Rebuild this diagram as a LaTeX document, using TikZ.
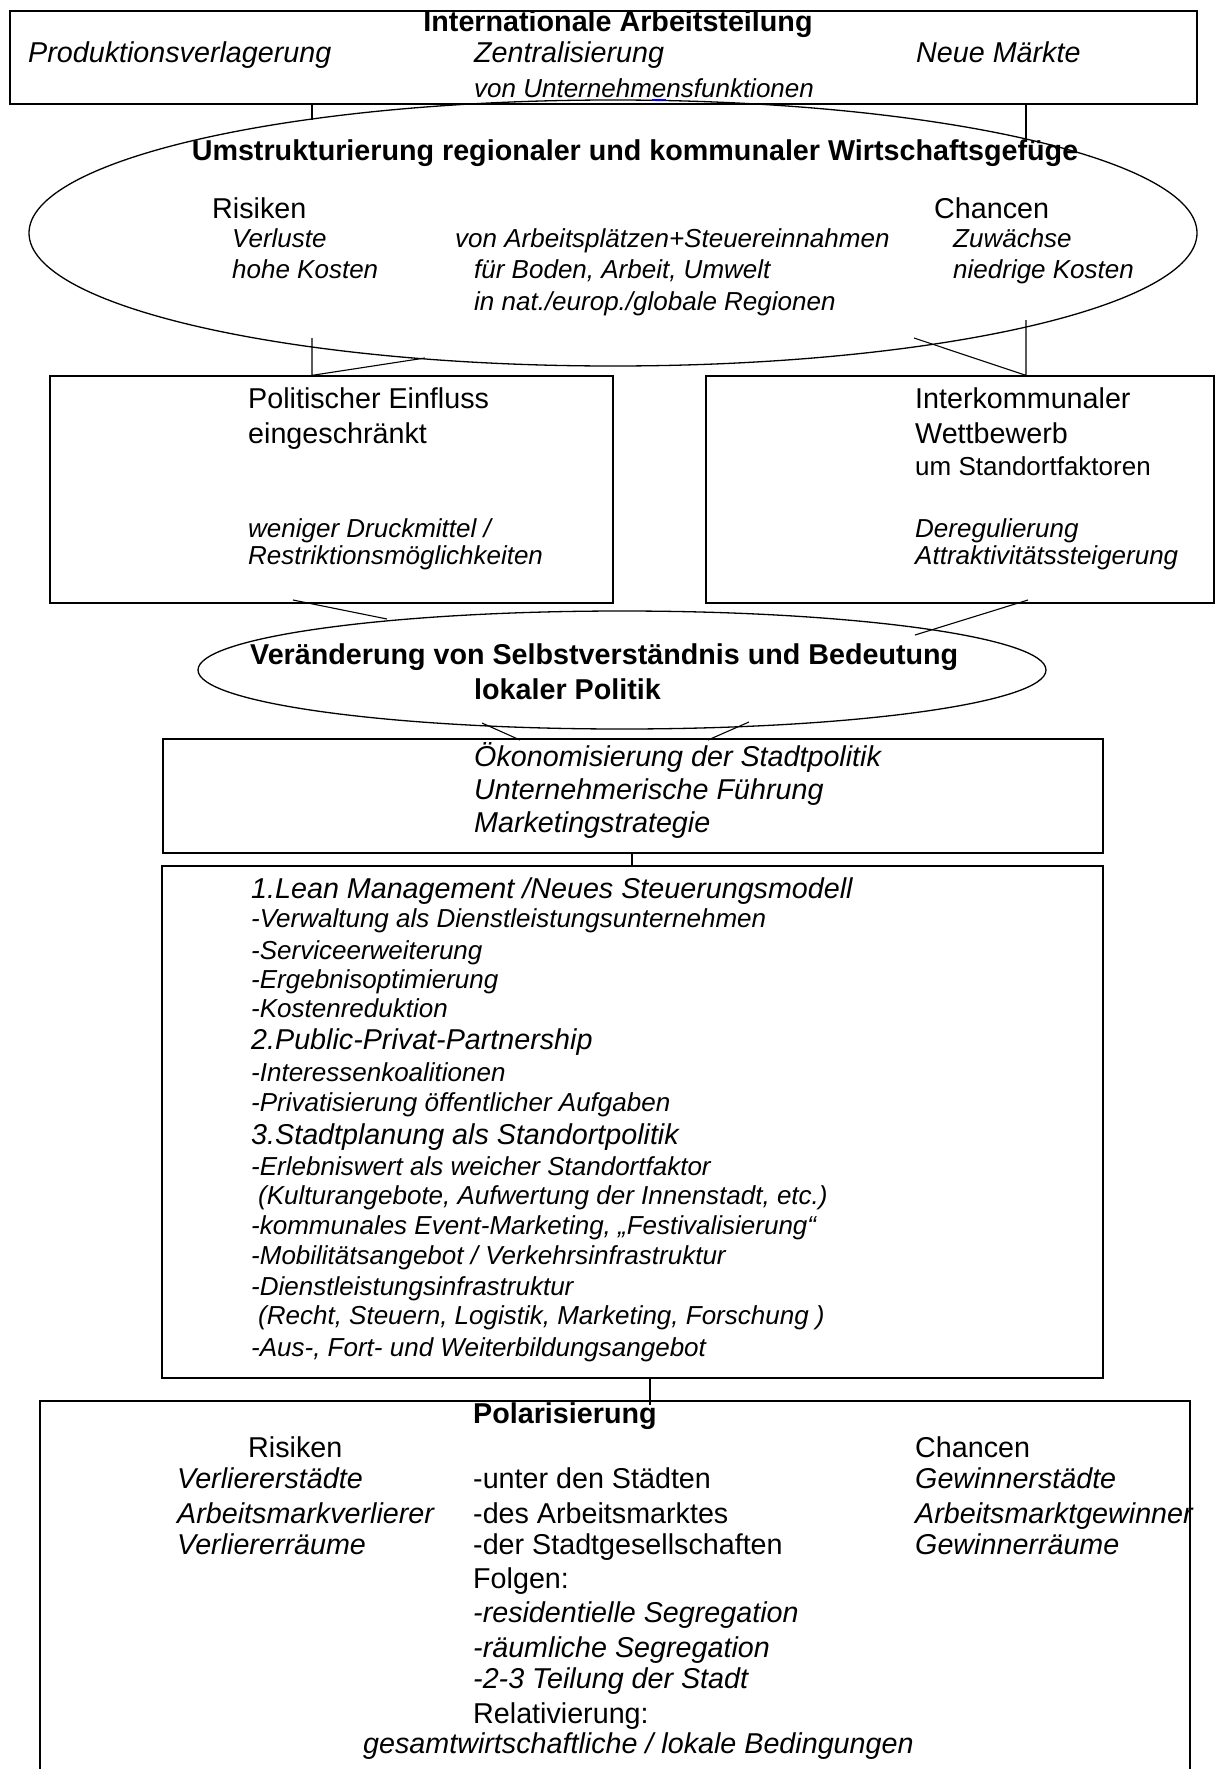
\documentclass[tikz,border=0pt]{standalone}
\usepackage{fontspec}
\setmainfont{Liberation Sans}
\usetikzlibrary{shapes.geometric}
\newcommand{\normaltext}{\fontsize{28.7}{33}\selectfont}
\newcommand{\smalltext}{\fontsize{26}{30}\selectfont}
\newcommand{\markblue}[1]{\setbox0=\hbox{#1}\rlap{\color{blue}\rule[-4pt]{\wd0}{1.6pt}}#1}

\begin{document}
\begin{tikzpicture}[x=1pt, y=-1pt,
    box/.style={draw, line width=1.3pt, inner sep=0pt},
    oval/.style={draw, ellipse, line width=1.3pt, inner sep=0pt},
    head/.style={anchor=base, inner sep=0pt, font=\normaltext\bfseries},
    headl/.style={anchor=base west, inner sep=0pt, font=\normaltext\bfseries},
    txt/.style={anchor=base west, inner sep=0pt, font=\normaltext},
    itxt/.style={anchor=base west, inner sep=0pt, font=\normaltext\itshape},
    stxt/.style={anchor=base west, inner sep=0pt, font=\smalltext},
    sitxt/.style={anchor=base west, inner sep=0pt, font=\smalltext\itshape},
    link/.style={line width=1.1pt}]
    \useasboundingbox (0,0) rectangle (1216,1769);

    % Shapes
    \node[box, minimum width=1187pt, minimum height=93pt] (arbeit) at (603.5,57.5) {};
    \node[oval, minimum width=1168pt, minimum height=266pt] (umbau) at (613,233) {};
    \node[box, minimum width=563pt, minimum height=227pt] (einfluss) at (331.5,489.5) {};
    \node[box, minimum width=508pt, minimum height=227pt] (wettbewerb) at (960,489.5) {};
    \node[oval, minimum width=848pt, minimum height=118pt] (politik) at (622,670) {};
    \node[box, minimum width=940pt, minimum height=114pt] (oekonomie) at (633,796) {};
    \node[box, minimum width=941pt, minimum height=512pt] (strategie) at (632.5,1122) {};
    \node[box, minimum width=1150pt, minimum height=399pt] (polar) at (615,1600.5) {};

    % Connectors
    \coordinate (a1) at (312,120);
    \coordinate (a2) at (1026,140);
    \draw[link] (arbeit.south -| a1) -- (a1);
    \draw[link] (arbeit.south -| a2) -- (a2);
    \coordinate (b1) at (312,338);
    \coordinate (b2) at (425,358);
    \coordinate (b3) at (1026,320);
    \coordinate (b4) at (914,338);
    \draw[link] (b1) -- (einfluss.north -| b1) -- (b2);
    \draw[link] (b3) -- (wettbewerb.north -| b3) -- (b4);
    \coordinate (c1) at (293,600);
    \coordinate (c2) at (387,619);
    \coordinate (c3) at (1028,600);
    \coordinate (c4) at (915,635);
    \draw[link] (c1) -- (c2);
    \draw[link] (c3) -- (c4);
    \coordinate (d1) at (482,723);
    \coordinate (d2) at (520,740);
    \coordinate (d3) at (749,722);
    \coordinate (d4) at (708,740);
    \draw[link] (d1) -- (d2);
    \draw[link] (d3) -- (d4);
    \coordinate (e1) at (632,853);
    \draw[link] (e1) -- (strategie.north -| e1);
    \coordinate (f1) at (650,1405);
    \draw[link] (strategie.south -| f1) -- (f1);

    % Internationale Arbeitsteilung
    \node[head] (t0) at (618,32) {Internationale Arbeitsteilung};
    \node[itxt] (t1) at (28,63) {Produktionsverlagerung};
    \node[itxt] (t2) at (474,63) {Zentralisierung};
    \node[itxt] (t3) at (916,63) {Neue Märkte};
    \node[sitxt] (t4) at (474,97) {von Unternehm\markblue{e}nsfunktionen};

    % Umstrukturierung
    \node[head] (u0) at (635,160) {Umstrukturierung regionaler und kommunaler Wirtschaftsgefüge};
    \node[txt] (u1) at (212,218) {Risiken};
    \node[txt] (u2) at (934,218) {Chancen};
    \node[sitxt] (u3) at (232,247) {Verluste};
    \node[sitxt] (u4) at (232,278) {hohe Kosten};
    \node[sitxt] (u5) at (455,247) {von Arbeitsplätzen+Steuereinnahmen};
    \node[sitxt] (u6) at (474,278) {für Boden, Arbeit, Umwelt};
    \node[sitxt] (u7) at (474,310) {in nat./europ./globale Regionen};
    \node[sitxt] (u8) at (953,247) {Zuwächse};
    \node[sitxt] (u9) at (953,278) {niedrige Kosten};

    % Politischer Einfluss / Interkommunaler Wettbewerb
    \node[txt] (p1) at (248,408) {Politischer Einfluss};
    \node[txt] (p2) at (248,443) {eingeschränkt};
    \node[sitxt] (p3) at (248,537) {weniger Druckmittel /};
    \node[sitxt] (p4) at (248,564) {Restriktionsmöglichkeiten};
    \node[txt] (w1) at (915,408) {Interkommunaler};
    \node[txt] (w2) at (915,443) {Wettbewerb};
    \node[stxt] (w3) at (915,475) {um Standortfaktoren};
    \node[sitxt] (w4) at (915,537) {Deregulierung};
    \node[sitxt] (w5) at (915,564) {Attraktivitätssteigerung};

    % Veraenderung lokaler Politik
    \node[headl] (v1) at (250,664) {Veränderung von Selbstverständnis und Bedeutung};
    \node[headl] (v2) at (474,699) {lokaler Politik};

    % Oekonomisierung
    \node[itxt] (o1) at (474,766) {Ökonomisierung der Stadtpolitik};
    \node[itxt] (o2) at (474,799) {Unternehmerische Führung};
    \node[itxt] (o3) at (474,832) {Marketingstrategie};

    % Strategien
    \node[itxt] (s1) at (251,898) {1.Lean Management /Neues Steuerungsmodell};
    \node[sitxt] (s2) at (251,927) {-Verwaltung als Dienstleistungsunternehmen};
    \node[sitxt] (s3) at (251,959) {-Serviceerweiterung};
    \node[sitxt] (s4) at (251,988) {-Ergebnisoptimierung};
    \node[sitxt] (s5) at (251,1017) {-Kostenreduktion};
    \node[itxt] (s6) at (251,1049) {2.Public-Privat-Partnership};
    \node[sitxt] (s7) at (251,1081) {-Interessenkoalitionen};
    \node[sitxt] (s8) at (251,1111) {-Privatisierung öffentlicher Aufgaben};
    \node[itxt] (s9) at (251,1144) {3.Stadtplanung als Standortpolitik};
    \node[sitxt] (s10) at (251,1175) {-Erlebniswert als weicher Standortfaktor};
    \node[sitxt] (s11) at (258,1204) {(Kulturangebote, Aufwertung der Innenstadt, etc.)};
    \node[sitxt] (s12) at (251,1234) {-kommunales Event-Marketing, „Festivalisierung“};
    \node[sitxt] (s13) at (251,1264) {-Mobilitätsangebot / Verkehrsinfrastruktur};
    \node[sitxt] (s14) at (251,1295) {-Dienstleistungsinfrastruktur};
    \node[sitxt] (s15) at (258,1324) {(Recht, Steuern, Logistik, Marketing, Forschung )};
    \node[sitxt] (s16) at (251,1356) {-Aus-, Fort- und Weiterbildungsangebot};

    % Polarisierung
    \node[headl] (q0) at (473,1423) {Polarisierung};
    \node[txt] (q1) at (248,1457) {Risiken};
    \node[txt] (q2) at (915,1457) {Chancen};
    \node[itxt] (q3) at (177,1488) {Verliererstädte};
    \node[itxt] (q4) at (177,1523) {Arbeitsmarkverlierer};
    \node[itxt] (q5) at (177,1554) {Verliererräume};
    \node[txt] (q6) at (473,1488) {-unter den Städten};
    \node[txt] (q7) at (473,1523) {-des Arbeitsmarktes};
    \node[txt] (q8) at (473,1554) {-der Stadtgesellschaften};
    \node[txt] (q9) at (473,1588) {Folgen:};
    \node[itxt] (q10) at (473,1622) {-residentielle Segregation};
    \node[itxt] (q11) at (473,1657) {-räumliche Segregation};
    \node[itxt] (q12) at (473,1688) {-2-3 Teilung der Stadt};
    \node[txt] (q13) at (473,1723) {Relativierung:};
    \node[itxt] (q14) at (363,1753) {gesamtwirtschaftliche / lokale Bedingungen};
    \node[itxt] (q15) at (915,1488) {Gewinnerstädte};
    \node[itxt] (q16) at (915,1523) {Arbeitsmarktgewinner};
    \node[itxt] (q17) at (915,1554) {Gewinnerräume};
\end{tikzpicture}
\end{document}
